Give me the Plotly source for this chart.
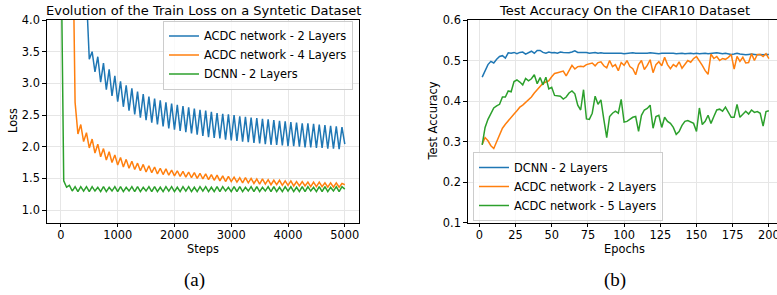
import plotly.graph_objects as go

# ---------------- data: left panel (train loss) ----------------
STEPS = list(range(0, 5001, 50))

LOSS_ACDC2 = [
    9.0, 8.5, 8.0, 7.6, 7.2, 6.8, 6.4, 6.0, 5.2, 4.4,
    3.38, 3.50, 3.18, 3.42, 3.02, 3.32, 2.90, 3.22, 2.80, 3.12,
    2.71, 3.03, 2.63, 2.97, 2.57, 2.92, 2.51, 2.87, 2.46, 2.83,
    2.42, 2.79, 2.38, 2.76, 2.35, 2.73, 2.32, 2.70, 2.29, 2.68,
    2.27, 2.66, 2.25, 2.64, 2.23, 2.62, 2.21, 2.60, 2.19, 2.58,
    2.17, 2.57, 2.15, 2.55, 2.14, 2.53, 2.13, 2.52, 2.11, 2.51,
    2.10, 2.50, 2.09, 2.48, 2.08, 2.47, 2.07, 2.46, 2.06, 2.45,
    2.05, 2.44, 2.04, 2.43, 2.03, 2.42, 2.03, 2.41, 2.02, 2.40,
    2.01, 2.39, 2.01, 2.38, 2.00, 2.37, 1.99, 2.37, 1.99, 2.36,
    1.98, 2.35, 1.98, 2.34, 1.97, 2.33, 1.97, 2.32, 1.96, 2.31,
    2.04,
]

LOSS_ACDC4 = [
    14.0, 12.0, 10.0, 8.5, 5.95, 2.70, 2.20, 2.35, 2.08, 2.22,
    1.98, 2.12, 1.90, 2.04, 1.84, 1.97, 1.79, 1.92, 1.75, 1.87,
    1.71, 1.83, 1.68, 1.80, 1.66, 1.77, 1.64, 1.74, 1.62, 1.72,
    1.60, 1.70, 1.59, 1.68, 1.57, 1.66, 1.56, 1.65, 1.55, 1.63,
    1.54, 1.62, 1.53, 1.61, 1.52, 1.60, 1.51, 1.59, 1.50, 1.58,
    1.49, 1.57, 1.48, 1.56, 1.47, 1.55, 1.46, 1.54, 1.45, 1.53,
    1.45, 1.52, 1.44, 1.51, 1.43, 1.51, 1.43, 1.50, 1.42, 1.49,
    1.41, 1.49, 1.41, 1.48, 1.40, 1.47, 1.40, 1.47, 1.39, 1.46,
    1.39, 1.46, 1.38, 1.45, 1.38, 1.45, 1.38, 1.44, 1.37, 1.44,
    1.37, 1.44, 1.37, 1.43, 1.36, 1.43, 1.36, 1.43, 1.36, 1.42,
    1.40,
]

LOSS_DCNN2 = [
    5.4, 1.46, 1.36, 1.39, 1.30, 1.37, 1.29, 1.37, 1.30, 1.37,
    1.29, 1.37, 1.30, 1.36, 1.29, 1.37, 1.29, 1.36, 1.30, 1.37,
    1.29, 1.37, 1.29, 1.36, 1.30, 1.37, 1.29, 1.37, 1.29, 1.36,
    1.30, 1.37, 1.29, 1.37, 1.29, 1.36, 1.29, 1.37, 1.30, 1.37,
    1.29, 1.36, 1.29, 1.37, 1.30, 1.37, 1.29, 1.36, 1.29, 1.37,
    1.30, 1.37, 1.29, 1.36, 1.29, 1.37, 1.29, 1.37, 1.30, 1.36,
    1.29, 1.37, 1.29, 1.37, 1.29, 1.36, 1.30, 1.37, 1.29, 1.37,
    1.29, 1.36, 1.30, 1.37, 1.29, 1.37, 1.29, 1.36, 1.29, 1.37,
    1.30, 1.37, 1.29, 1.36, 1.29, 1.37, 1.29, 1.37, 1.30, 1.36,
    1.29, 1.37, 1.29, 1.37, 1.29, 1.36, 1.30, 1.37, 1.29, 1.37,
    1.33,
]

# ---------------- data: right panel (test accuracy) ----------------
EPOCHS = list(range(2, 201, 2))

ACC_DCNN2 = [
    0.459, 0.476, 0.490, 0.498, 0.494, 0.503, 0.510, 0.512, 0.506, 0.519,
    0.518, 0.520, 0.517, 0.520, 0.521, 0.516, 0.520, 0.523, 0.518, 0.525,
    0.525, 0.520, 0.518, 0.521, 0.519, 0.520, 0.518, 0.521, 0.520, 0.520,
    0.519, 0.521, 0.524, 0.520, 0.520, 0.519, 0.520, 0.518, 0.519, 0.520,
    0.518, 0.519, 0.518, 0.518, 0.519, 0.518, 0.518, 0.519, 0.518, 0.517,
    0.518, 0.518, 0.519, 0.518, 0.518, 0.517, 0.518, 0.518, 0.519, 0.518,
    0.518, 0.517, 0.518, 0.518, 0.518, 0.519, 0.518, 0.517, 0.518, 0.518,
    0.517, 0.518, 0.518, 0.517, 0.518, 0.517, 0.518, 0.518, 0.517, 0.518,
    0.518, 0.519, 0.518, 0.517, 0.518, 0.516, 0.515, 0.516, 0.518, 0.516,
    0.515, 0.514, 0.515, 0.516, 0.515, 0.514, 0.515, 0.514, 0.515, 0.515,
]

ACC_ACDC2 = [
    0.293, 0.310, 0.302, 0.290, 0.283, 0.300, 0.318, 0.333, 0.343, 0.352,
    0.360, 0.368, 0.376, 0.385, 0.390, 0.396, 0.402, 0.410, 0.420, 0.428,
    0.438, 0.444, 0.447, 0.450, 0.460, 0.468, 0.470, 0.472, 0.474, 0.462,
    0.477, 0.488, 0.479, 0.485, 0.486, 0.485, 0.490, 0.492, 0.494, 0.487,
    0.495, 0.497, 0.487, 0.482, 0.500, 0.485, 0.490, 0.475, 0.495, 0.488,
    0.500, 0.485, 0.480, 0.465, 0.490, 0.500, 0.478, 0.488, 0.502, 0.470,
    0.490, 0.497, 0.487, 0.508, 0.490, 0.480, 0.490, 0.485, 0.497, 0.481,
    0.490, 0.500, 0.496, 0.505, 0.510, 0.500, 0.488, 0.475, 0.466, 0.516,
    0.505, 0.510, 0.500, 0.505, 0.503, 0.508, 0.515, 0.479, 0.510, 0.498,
    0.508, 0.494, 0.495, 0.517, 0.500, 0.515, 0.515, 0.510, 0.517, 0.505,
]

ACC_ACDC5 = [
    0.292, 0.335, 0.355, 0.368, 0.383, 0.388, 0.392, 0.410, 0.410, 0.425,
    0.423, 0.448, 0.452, 0.447, 0.440, 0.456, 0.450, 0.455, 0.465, 0.443,
    0.458, 0.440, 0.459, 0.430, 0.434, 0.414, 0.413, 0.412, 0.405, 0.410,
    0.420, 0.425, 0.418, 0.390, 0.378, 0.428, 0.356, 0.355, 0.370, 0.412,
    0.392, 0.403, 0.355, 0.310, 0.362, 0.370, 0.375, 0.370, 0.404, 0.348,
    0.350, 0.355, 0.360, 0.362, 0.325, 0.365, 0.378, 0.382, 0.390, 0.333,
    0.362, 0.365, 0.335, 0.360, 0.350, 0.345, 0.335, 0.318, 0.325, 0.340,
    0.350, 0.352, 0.348, 0.345, 0.325, 0.383, 0.342, 0.350, 0.365, 0.345,
    0.362, 0.378, 0.380, 0.375, 0.385, 0.372, 0.360, 0.360, 0.392, 0.360,
    0.368, 0.375, 0.368, 0.378, 0.372, 0.374, 0.370, 0.338, 0.374, 0.376,
]

LEFT_TITLE = "Evolution of the Train Loss on a Syntetic Dataset"
RIGHT_TITLE = "Test Accuracy On the CIFAR10 Dataset"

BLUE, ORANGE, GREEN = "#1f77b4", "#ff7f0e", "#2ca02c"
FONT = "DejaVu Sans"
W, H = 777, 295
TICK_SIZE = 11.4

def px_x(p):
    return p / W

def px_y(p):
    return (H - p) / H

fig = go.Figure()

# left panel
for name, ys, col in [
    ("ACDC network - 2 Layers", LOSS_ACDC2, BLUE),
    ("ACDC network - 4 Layers", LOSS_ACDC4, ORANGE),
    ("DCNN - 2 Layers", LOSS_DCNN2, GREEN),
]:
    fig.add_trace(go.Scatter(x=STEPS, y=ys, mode="lines", name=name,
                             line=dict(color=col, width=1.5),
                             xaxis="x", yaxis="y", legend="legend"))

# right panel
for name, ys, col in [
    ("DCNN - 2 Layers", ACC_DCNN2, BLUE),
    ("ACDC network - 2 Layers", ACC_ACDC2, ORANGE),
    ("ACDC network - 5 Layers", ACC_ACDC5, GREEN),
]:
    fig.add_trace(go.Scatter(x=EPOCHS, y=ys, mode="lines", name=name,
                             line=dict(color=col, width=1.5),
                             xaxis="x2", yaxis="y2", legend="legend2"))

ydom = [px_y(222.7), px_y(20)]
axis_common = dict(
    showline=True, linecolor="black", linewidth=1,
    ticks="outside", ticklen=3.5, tickwidth=1, tickcolor="black",
    showgrid=True, gridcolor="#e6e6e6", gridwidth=1,
    zeroline=False, automargin=False, ticklabeloverflow="allow",
    tickfont=dict(family=FONT, size=TICK_SIZE, color="black"),
)

legend_common = dict(
    bgcolor="rgba(255,255,255,0.8)", bordercolor="#cccccc", borderwidth=1,
    font=dict(family=FONT, size=TICK_SIZE, color="black"),
    itemwidth=30, tracegroupgap=0,
)

def ann(text, x, y, size, family=FONT, angle=0):
    return dict(text=text, x=px_x(x), y=px_y(y), xref="paper", yref="paper",
                showarrow=False, xanchor="center", yanchor="middle",
                textangle=angle, font=dict(family=family, size=size, color="black"))

fig.update_layout(
    width=W, height=H,
    margin=dict(l=0, r=0, t=0, b=0, autoexpand=False),
    paper_bgcolor="white", plot_bgcolor="white",
    font=dict(family=FONT, size=TICK_SIZE, color="black"),
    showlegend=True,
    xaxis=dict(domain=[px_x(46.7), px_x(359)], range=[-250, 5250],
               tickvals=[0, 1000, 2000, 3000, 4000, 5000], mirror=True,
               anchor="y", ticklabelstandoff=-2, **axis_common),
    yaxis=dict(domain=ydom, range=[0.8, 4.0],
               tickvals=[1.0, 1.5, 2.0, 2.5, 3.0, 3.5, 4.0], tickformat=".1f",
               mirror=True, anchor="x", **axis_common),
    xaxis2=dict(domain=[px_x(467.7), 1.0], range=[-8.0, 205.6],
                tickvals=[0, 25, 50, 75, 100, 125, 150, 175, 200], mirror=True,
                anchor="y2", ticklabelstandoff=-2, **axis_common),
    yaxis2=dict(domain=ydom, range=[0.1, 0.6],
                tickvals=[0.1, 0.2, 0.3, 0.4, 0.5, 0.6], tickformat=".1f",
                mirror=False, anchor="x2", **axis_common),
    legend=dict(x=px_x(353), xanchor="right", y=px_y(20.5), yanchor="top",
                **legend_common),
    legend2=dict(x=px_x(473), xanchor="left", y=px_y(221), yanchor="bottom",
                 **legend_common),
    annotations=[
        ann(LEFT_TITLE, 203.5, 10, 13),
        ann(RIGHT_TITLE, 624.5, 10, 13),
        ann("Steps", 203, 249, TICK_SIZE),
        ann("Epochs", 624, 249, TICK_SIZE),
        ann("Loss", 13, 121, TICK_SIZE, angle=-90),
        ann("Test Accuracy", 432.5, 121, TICK_SIZE, angle=-90),
        ann("(a)", 194, 280, 19, family="Liberation Serif"),
        ann("(b)", 615, 280, 19, family="Liberation Serif"),
    ],
)

fig.write_html(
    "out.html",
    config={"displayModeBar": False},
    post_script="document.body.style.margin='0px';document.body.style.padding='0px';",
)
